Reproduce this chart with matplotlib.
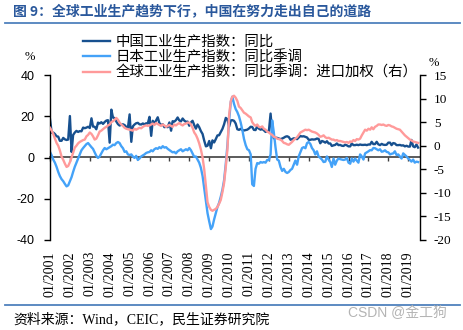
import matplotlib
matplotlib.use("Agg")
import matplotlib.pyplot as plt
import matplotlib.dates as mdates
from matplotlib.lines import Line2D
import pandas as pd

plt.rcParams['font.family'] = ['Noto Sans CJK SC', 'DejaVu Sans']
plt.rcParams['axes.unicode_minus'] = False

# Monthly series, 2001-01 .. 2019-07 (one row per year)
china_ip = [
    18.5, 12.0, 12.1, 11.4, 10.3, 10.1, 8.1, 8.1, 9.5, 8.8, 8.5, 8.7,
    20.1, 2.7, 10.9, 12.1, 12.9, 12.4, 12.8, 12.7, 14.5, 14.2, 14.5, 14.9,
    14.3, 19.0, 15.0, 14.9, 13.7, 16.9, 16.5, 17.1, 16.3, 17.2, 17.9, 18.1,
    7.2, 23.2, 19.4, 19.1, 17.5, 16.2, 15.5, 15.9, 16.1, 15.7, 14.8, 14.4,
    20.9, 7.6, 15.1, 16.0, 16.6, 16.8, 16.1, 16.0, 16.5, 16.1, 16.6, 16.5,
    19.7, 10.5, 17.8, 16.6, 17.9, 19.5, 16.7, 15.7, 16.1, 14.7, 14.9, 14.7,
    17.0, 13.0, 17.6, 17.4, 18.1, 19.4, 18.0, 17.5, 18.9, 17.9, 17.3, 17.4,
    15.4, 17.0, 17.8, 15.7, 14.0, 16.0, 14.7, 12.8, 11.4, 8.2, 5.4, 5.7,
    8.0, 4.5, 8.3, 7.3, 8.9, 10.7, 10.8, 12.3, 13.9, 16.1, 19.2, 18.5,
    15.0, 18.0, 18.1, 17.8, 16.5, 13.7, 13.4, 13.9, 13.3, 13.1, 13.3, 13.5,
    14.1, 14.9, 14.8, 13.4, 13.3, 15.1, 14.0, 13.5, 13.8, 13.2, 12.4, 12.8,
    12.8, 21.3, 11.9, 9.3, 9.6, 9.5, 9.2, 8.9, 9.2, 9.6, 10.1, 10.3,
    9.9, 8.6, 8.9, 9.3, 9.2, 8.9, 9.7, 10.4, 10.2, 10.3, 10.0, 9.7,
    8.6, 8.6, 8.8, 8.7, 8.8, 9.2, 9.0, 6.9, 8.0, 7.7, 7.2, 7.9,
    6.8, 6.8, 5.6, 5.9, 6.1, 6.8, 6.0, 6.1, 5.7, 5.6, 6.2, 5.9,
    5.4, 5.4, 6.8, 6.0, 6.0, 6.2, 6.0, 6.3, 6.1, 6.1, 6.2, 6.0,
    6.3, 6.3, 7.6, 6.5, 6.5, 7.6, 6.4, 6.0, 6.6, 6.2, 6.1, 6.2,
    7.2, 7.2, 6.0, 7.0, 6.8, 6.0, 6.0, 6.1, 5.8, 5.9, 5.4, 5.7,
    5.3, 5.3, 8.5, 5.4, 5.0, 6.3, 4.8,
]

japan_ip = [
    2.7, 1.0, -1.0, -2.5, -4.5, -7.0, -9.0, -10.5, -11.5, -12.8, -14.0, -13.5,
    -11.5, -9.5, -7.0, -4.5, -2.5, -0.5, 1.5, 3.5, 4.6, 5.5, 6.5, 7.0,
    6.0, 5.0, 4.2, 2.5, 0.8, -0.2, 0.5, 2.0, 3.5, 4.6, 4.0, 4.5,
    5.0, 5.5, 6.2, 6.0, 7.0, 7.5, 7.0, 5.5, 4.5, 2.7, 3.0, 1.5,
    1.2, 1.5, 0.5, -0.2, 0.8, -1.2, -0.5, 0.5, 1.0, 1.5, 2.2, 2.5,
    2.7, 3.5, 3.0, 4.0, 4.5, 4.2, 5.0, 4.5, 5.5, 4.8, 5.0, 4.2,
    3.6, 3.0, 2.5, 2.7, 2.0, 3.0, 3.5, 4.0, 3.0, 3.5, 4.0, 3.5,
    4.6, 3.5, 2.0, 0.3, 0.5, -1.0, -2.5, -5.0, -9.0, -15.0, -21.0, -27.0,
    -31.0, -34.7, -33.5, -30.0, -27.0, -24.0, -22.0, -19.0, -15.5, -11.0, -3.0, 6.0,
    18.0, 27.0, 29.5, 26.0, 23.5, 22.0, 20.0, 17.0, 13.3, 9.0, 6.0, 4.0,
    3.5, 1.5, -13.0, -13.8, -5.5, -2.7, -3.0, -2.2, -2.5, -2.2, -2.5, -1.2,
    -1.2, 1.5, 18.0, 12.0, 5.0, -1.0, -1.5, -4.6, -6.5, -5.5, -7.0, -7.5,
    -7.0, -6.0, -5.5, -3.5, -1.5, -3.5, 0.5, 2.5, 4.6, 5.0, 4.5, 7.0,
    7.5, 6.5, 4.6, 3.5, 1.5, 3.0, 0.5, -0.2, -1.0, -2.2, -2.0, 0.5,
    -1.0, -2.2, -4.6, -0.5, -3.5, -1.5, -0.5, -0.8, -1.0, -1.2, -1.0, -0.2,
    -2.5, -3.0, -0.5, -2.0, -0.5, -1.5, -2.5, 1.5, 0.5, -1.0, 2.0, 2.5,
    3.0, 3.6, 3.5, 4.6, 4.5, 4.0, 3.5, 4.0, 2.8, 3.0, 3.5, 2.7,
    2.5, 1.5, 1.8, 2.0, 3.0, 1.2, 1.5, 0.5, -0.5, 2.0, 1.2, 0.5,
    -0.5, -1.2, -2.0, -1.0, -2.5, -2.0, -2.2,
]

global_ip = [
    3.8, 3.2, 2.5, 1.5, 0.6, 0.0, -1.0, -2.3, -3.0, -3.8, -4.5, -4.3,
    -3.5, -2.5, -1.5, -0.4, 0.0, 0.5, 0.8, 1.0, 1.2, 1.3, 2.0, 2.3,
    2.8, 2.5, 2.0, 1.3, 1.5, 2.2, 3.0, 3.2, 3.5, 3.8, 4.0, 4.3,
    4.5, 5.0, 5.2, 5.5, 5.9, 5.5, 4.9, 4.5, 4.2, 3.8, 3.6, 3.5,
    3.4, 3.3, 3.2, 3.6, 3.4, 3.6, 3.8, 3.7, 4.0, 4.2, 4.3, 4.2,
    4.3, 4.5, 4.7, 4.4, 4.8, 4.6, 4.4, 4.2, 4.5, 4.3, 4.0, 4.2,
    4.4, 4.2, 4.0, 4.5, 4.3, 4.6, 4.8, 4.5, 4.3, 4.6, 4.7, 4.9,
    4.9, 4.5, 3.8, 2.8, 2.3, 1.5, 0.5, -0.8, -2.5, -5.0, -8.5, -12.0,
    -13.0, -13.6, -13.8, -13.6, -13.4, -13.0, -12.3, -11.5, -9.8, -7.9, -4.5, -0.8,
    6.5, 9.5, 10.4, 10.6, 10.2, 9.5, 8.3, 8.0, 7.5, 7.0, 6.8, 6.5,
    6.2, 6.0, 5.0, 4.5, 4.2, 4.5, 4.0, 3.9, 4.1, 3.6, 3.4, 3.0,
    2.8, 2.5, 2.3, 1.9, 1.8, 1.5, 1.4, 1.3, 1.0, 0.6, 0.5, 0.3,
    0.2, 0.5, 0.8, 1.2, 1.5, 1.8, 2.3, 2.8, 3.0, 3.2, 3.4, 3.3,
    3.4, 3.2, 3.0, 2.9, 2.8, 2.6, 2.3, 1.9, 2.0, 2.2, 1.8, 1.6,
    1.7, 1.5, 1.3, 1.3, 1.1, 1.2, 1.0, 1.0, 0.9, 0.8, 0.7, 0.8,
    0.6, 0.9, 0.8, 1.2, 1.0, 1.4, 1.3, 1.5, 2.2, 2.8, 3.4, 3.2,
    3.6, 3.4, 3.9, 3.5, 4.0, 4.2, 4.5, 4.5, 4.4, 4.5, 4.3, 4.2,
    4.4, 4.3, 4.1, 4.0, 3.8, 3.6, 3.5, 3.4, 3.0, 2.6, 2.2, 1.9,
    1.6, 1.3, 1.1, 0.9, 0.8, 0.7, 0.6,
]

series_names = ['中国工业生产指数：同比',
                '日本工业生产指数：同比季调',
                '全球工业生产指数：同比季调：进口加权（右）']
left_ticks = [-40, -20, 0, 20, 40]
right_ticks = [-20, -15, -10, -5, 0, 5, 10, 15]
tick_years = list(range(2001, 2020))
tick_labels = [f'01/{y}' for y in tick_years]

title_text = '图 9：全球工业生产趋势下行，中国在努力走出自己的道路'
source_text = '资料来源：Wind，CEIC，民生证券研究院'
mark_text = 'CSDN @金工狗'

c_china = '#17508f'
c_japan = '#44a2f8'
c_global = '#ff9a9a'

months = pd.date_range('2001-01-01', periods=len(china_ip), freq='MS')
tick_dates = [pd.Timestamp(f'{y}-01-01') for y in tick_years]

W, H = 464, 330
fig = plt.figure(figsize=(W / 100, H / 100), dpi=100)
ax = fig.add_axes([50 / W, 1 - 240 / H, 370 / W, 165 / H])
ax2 = ax.twinx()

l1, = ax.plot(months, china_ip, color=c_china, lw=1.7, solid_joinstyle='round')
l2, = ax.plot(months, japan_ip, color=c_japan, lw=1.7, solid_joinstyle='round')
l3, = ax2.plot(months, global_ip, color=c_global, lw=1.7, solid_joinstyle='round')

ax.set_xlim(months[0], pd.Timestamp('2019-08-05'))
ax.set_ylim(-40, 40)
ax2.set_ylim(-20, 15)

for s in ['top', 'right', 'bottom']:
    ax.spines[s].set_visible(False)
for s in ['top', 'left', 'bottom']:
    ax2.spines[s].set_visible(False)
ax.spines['left'].set_linewidth(1.0)
ax2.spines['right'].set_linewidth(1.0)

ax.set_yticks(left_ticks)
ax.tick_params(axis='y', direction='out', length=4, width=1, pad=7, labelsize=9)
for t in ax.get_yticklabels():
    t.set_fontfamily('Liberation Sans')

ax2.set_yticks(right_ticks)
ax2.tick_params(axis='y', direction='out', length=4, width=1, pad=6, labelsize=9.5)
for t in ax2.get_yticklabels():
    t.set_fontfamily('Liberation Serif')

ax.set_xticks(tick_dates)
ax.set_xticklabels(tick_labels, rotation=90, fontsize=10, fontfamily='Liberation Serif')
ax.tick_params(axis='x', length=0, pad=8)

# zero line with yearly tick marks
zero = ax.secondary_xaxis(0.5)
zero.set_xticks([mdates.date2num(d) for d in tick_dates])
zero.set_xticklabels([])
zero.tick_params(direction='in', length=3, width=1, color='#404040')
for s in zero.spines.values():
    s.set_color('#404040')
    s.set_linewidth(1.2)

fig.text(30 / W, 1 - 57 / H, '%', fontsize=9, family='Liberation Serif',
         ha='center', va='center')
fig.text(434 / W, 1 - 63 / H, '%', fontsize=9, family='Liberation Serif',
         ha='center', va='center')

ax2.legend([l1, l2, l3], series_names, loc='upper left',
           bbox_to_anchor=(83 / W, 1 - 35 / H), bbox_transform=fig.transFigure,
           frameon=False, fontsize=10.4, handlelength=1.9, handletextpad=0.35,
           labelspacing=0.08, borderpad=0, borderaxespad=0)

fig.text(13 / W, 1 - 11 / H, title_text, fontsize=10, color='#2a589c',
         fontweight='bold', ha='left', va='center')
fig.add_artist(Line2D([5 / W, 460 / W], [1 - 23 / H] * 2, transform=fig.transFigure,
                      color='#4f81bd', lw=1.3))
fig.add_artist(Line2D([5 / W, 460 / W], [1 - 305 / H] * 2, transform=fig.transFigure,
                      color='#4f81bd', lw=1.3))
fig.text(13 / W, 1 - 319 / H, source_text, fontsize=10,
         family=['Liberation Serif', 'Noto Sans CJK SC'], ha='left', va='center')
fig.text(447 / W, 1 - 313 / H, mark_text, fontsize=10, color='#b4b4b4',
         family=['Liberation Sans', 'Noto Sans CJK SC'], ha='right', va='center')

fig.savefig('out.png', dpi=100)
